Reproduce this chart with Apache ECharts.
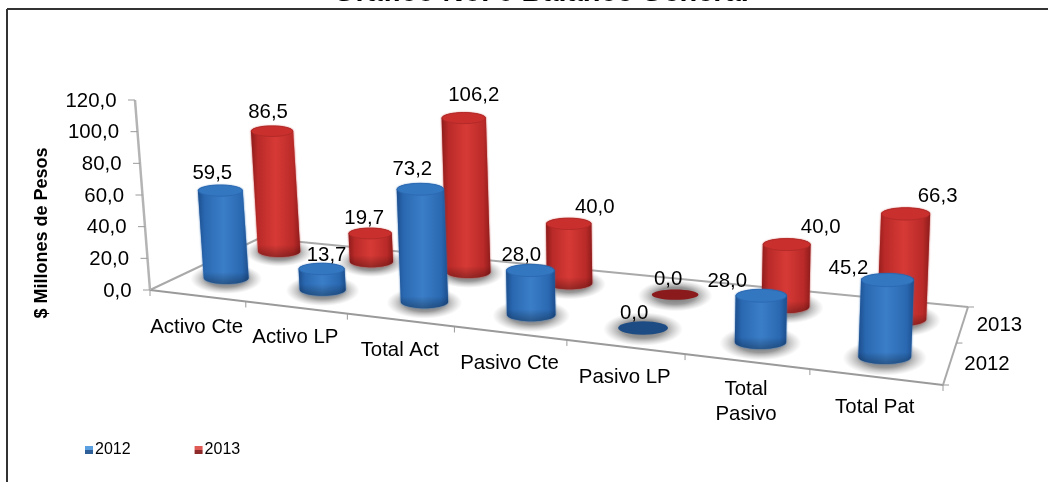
<!DOCTYPE html>
<html><head><meta charset="utf-8">
<style>html,body{margin:0;padding:0;background:#fff;overflow:hidden}#c{width:1048px;height:482px}</style>
<script src="https://cdn.jsdelivr.net/npm/echarts@6/dist/echarts.min.js"></script>
</head><body><div id="c"></div>
<script>
const categories = ['Activo Cte','Activo LP','Total Act','Pasivo Cte','Pasivo LP','Total\nPasivo','Total Pat'];
const values2012 = [59.5,13.7,73.2,28.0,0.0,28.0,45.2];
const values2013 = [86.5,19.7,106.2,40.0,0.0,40.0,66.3];
const yTicks = [0,20,40,60,80,100,120];
const depthNames = ['2012','2013'];

/* presentation only */
const labelOffsets2012 = [[-8,-17],[5,-14],[-8,-20],[-9,-15],[-9,-15],[-34,-14],[-39,-12]];
const labelOffsets2013 = [[-4,-19],[-6,-15],[10,-23],[26,-16],[-7,-15],[34,-17],[32,-18]];
const FONT = '"Liberation Sans", Arial, sans-serif';
const chart = echarts.init(document.getElementById('c'), null, {renderer:'canvas'});
const G = {left:150, top:100, width:793, height:190};

// floor quad (front-left, front-right, back-right, back-left)
const Q = [[150,290],[943,385],[968,307],[260,238]];
const H = (function(){
  const [p0,p1,p2,p3]=Q;
  const dx1=p1[0]-p2[0],dx2=p3[0]-p2[0],sx=p0[0]-p1[0]+p2[0]-p3[0];
  const dy1=p1[1]-p2[1],dy2=p3[1]-p2[1],sy=p0[1]-p1[1]+p2[1]-p3[1];
  const den=dx1*dy2-dx2*dy1;
  const g=(sx*dy2-dx2*sy)/den,h=(dx1*sy-sx*dy1)/den;
  return {a:p1[0]-p0[0]+g*p1[0],b:p3[0]-p0[0]+h*p3[0],c:p0[0],d:p1[1]-p0[1]+g*p1[1],e:p3[1]-p0[1]+h*p3[1],f:p0[1],g,h};
})();
function floorPt(u0,v){const u=u0+0.016*Math.sin(Math.PI*u0);const w=H.g*u+H.h*v+1;return [(H.a*u+H.b*v+H.c)/w,(H.d*u+H.e*v+H.f)/w];}
const fmt = v => v.toFixed(1).replace('.',',');
const rowV = [0.25,0.75];

function project(api,row){
  const base = api.coord([api.value(0),0]);
  const top = api.coord([api.value(0),api.value(1)]);
  const u = (base[0]-G.left)/G.width;
  const b = floorPt(u,rowV[row]);
  b[1] += -3.5+5*u;
  const s = 1.02*(1.36+0.0029*(b[1]-251))/1.583;
  const hp = (base[1]-top[1])*s;
  const t = [b[0]+(b[0]-660)*hp*0.000155, b[1]-hp];
  const w = 42+(b[1]-257+8)*0.1;
  return {b,t,hp,rx:w/2};
}
const PAL = [
 {edge:'#1d4f8e',mid:'#3b7ec8',side:'#2a69b2',top:'#3377c0',rim:'#2c6ab3',flat:'#1d4c85'},
 {edge:'#8e1c1c',mid:'#d73a36',side:'#b92a28',top:'#c92f2d',rim:'#b32a28',flat:'#8a1a1c'}
];
function ellipsePts(cx,cy,rx,ry,a0,a1,n){
  const pts=[];for(let i=0;i<=n;i++){const a=a0+(a1-a0)*i/n;pts.push([cx+rx*Math.cos(a),cy+ry*Math.sin(a)]);}return pts;
}
function cylinder(row){
  return function(params,api){
    const p=project(api,row), c=PAL[row], ryB=p.rx*0.27, ryT=p.rx*0.25;
    if(p.hp<0.5){
      return {type:'ellipse',shape:{cx:p.b[0],cy:p.b[1],rx:p.rx,ry:p.rx*(row?0.22:0.27)},style:{fill:c.flat}};
    }
    const pts=ellipsePts(p.b[0],p.b[1],p.rx,ryB,Math.PI,0,24).concat(ellipsePts(p.t[0],p.t[1],p.rx,ryT,0,-Math.PI,24));
    return {type:'group',children:[
      {type:'polygon',shape:{points:pts},style:{fill:new echarts.graphic.LinearGradient(0,0,1,0,[
        {offset:0,color:c.edge},{offset:0.14,color:c.side},{offset:0.5,color:c.mid},{offset:0.86,color:c.side},{offset:1,color:c.edge}]),
        shadowBlur:2,shadowColor:c.side}},
      {type:'polygon',shape:{points:pts},style:{fill:new echarts.graphic.LinearGradient(0,0,0,1,[
        {offset:0,color:'rgba(0,0,0,0)'},{offset:Math.max(0,1-12/(p.hp+ryB+ryT)),color:'rgba(0,0,0,0)'},{offset:1,color:'rgba(0,0,0,0.3)'}])}},
      {type:'ellipse',shape:{cx:p.t[0],cy:p.t[1],rx:p.rx-0.5,ry:ryT},style:{fill:c.top,stroke:c.rim,lineWidth:1}}
    ]};
  };
}
function shadow(row){
  return function(params,api){
    const p=project(api,row), R=p.rx*1.6, ky=0.42;
    return {type:'circle',x:p.b[0],y:p.b[1]+1,scaleX:1,scaleY:ky,shape:{cx:0,cy:0,r:R},
      style:{fill:new echarts.graphic.RadialGradient(0.5,0.5,0.5,[
        {offset:0,color:'rgba(70,70,70,0.8)'},{offset:0.55,color:'rgba(90,90,90,0.62)'},{offset:1,color:'rgba(140,140,140,0)'}])}};
  };
}
function dataLabel(row,off){
  return function(params,api){
    const p=project(api,row), o=off[params.dataIndex];
    return {type:'text',x:p.t[0]+o[0],y:p.t[1]+o[1],style:{text:fmt(api.value(1)),x:0,y:0,align:'center',verticalAlign:'middle',fill:'#000',font:'20.4px '+FONT}};
  };
}
function line(a,b,color,w){return {type:'line',shape:{x1:a[0],y1:a[1],x2:b[0],y2:b[1]},style:{stroke:color,lineWidth:w}};}

function renderFloor(){
  const [a,b,c,d]=Q, kids=[
    {type:'polygon',shape:{points:Q},style:{fill:'#fff'}},
    line(d,c,'#a9a9a9',2), line(a,d,'#a9a9a9',2), line(a,b,'#9a9a9a',2), line(b,c,'#a9a9a9',2)
  ];
  for(let i=0;i<=categories.length;i++){
    const e=floorPt(i/categories.length,0); kids.push(line(e,[e[0],e[1]+6],'#9a9a9a',1));
  }
  [0,0.5,1].forEach(v=>{const e=floorPt(1,v);kids.push(line(e,[e[0]+6,e[1]],'#9a9a9a',1));});
  depthNames.forEach((n,i)=>{const e=floorPt(1,rowV[i]);
    kids.push({type:'text',x:e[0]+37,y:e[1]+1,style:{text:n,align:'center',verticalAlign:'middle',fill:'#000',font:'20.4px '+FONT}});});
  return {type:'group',children:kids};
}
function renderYTick(params,api){
  const y=api.coord([0,api.value(1)])[1], h=G.top+G.height-y, x=G.left-h*0.079;
  const kids=[line([x-7,y],[x,y],'#9a9a9a',1),
    {type:'text',x:x-18.5,y:y+1,style:{text:fmt(api.value(1)),align:'right',verticalAlign:'middle',fill:'#000',font:'20.4px '+FONT}}];
  if(params.dataIndex===0){
    const top=api.coord([0,yTicks[yTicks.length-1]])[1];
    kids.unshift(line([x,y],[G.left-(G.top+G.height-top)*0.079,top],'#b4b4b4',2.5));
  }
  return {type:'group',children:kids};
}
function renderCat(params,api){
  const base=api.coord([api.value(0),0]), u=(base[0]-G.left)/G.width, e=floorPt(u,0), t=categories[params.dataIndex];
  const two=t.indexOf('\n')>=0, dy=params.dataIndex===0?32:30;
  return {type:'text',x:e[0]-0.5,y:e[1]+(two?40:dy),style:{text:t,align:'center',verticalAlign:'middle',lineHeight:25,fill:'#000',font:'20.4px '+FONT}};
}
const toXY = arr => arr.map((v,i)=>[i,v]);
const catData = categories.map((c,i)=>[i,0]);
const legendGrad = (a,b)=>new echarts.graphic.LinearGradient(0,0,0,1,[{offset:0,color:a},{offset:0.5,color:a},{offset:0.5,color:b},{offset:1,color:b}]);
const enc={x:0,y:1};
const helper=(o)=>Object.assign({type:'custom',encode:enc,silent:true,clip:false},o);

chart.setOption({
  animation:false,
  backgroundColor:'#fff',
  title:{text:'Gráfico No. 6 Balance General',left:328,top:-27,textStyle:{fontFamily:FONT,fontWeight:'bold',fontSize:29,color:'#000'}},
  graphic:[
    {type:'line',shape:{x1:7,y1:9,x2:1048,y2:9},style:{stroke:'#333',lineWidth:2},z:0},
    {type:'line',shape:{x1:7,y1:9,x2:7,y2:482},style:{stroke:'#333',lineWidth:2},z:0},
    {type:'text',rotation:Math.PI/2,x:42,y:233,style:{text:'$ Millones de Pesos',align:'center',verticalAlign:'middle',fill:'#000',font:'bold 18px '+FONT}}
  ],
  legend:{data:['2012','2013'],left:80,top:437,itemWidth:8,itemHeight:8,itemGap:64,icon:'rect',textStyle:{fontFamily:FONT,fontSize:16,color:'#000',padding:[0,0,0,-3]}},
  grid:G,
  xAxis:{type:'category',data:categories,show:false},
  yAxis:{type:'value',min:0,max:120,interval:20,show:false},
  series:[
    helper({name:'floor',z:1,data:[[0,0]],renderItem:renderFloor}),
    helper({name:'ticks',z:1,data:yTicks.map(v=>[0,v]),renderItem:renderYTick}),
    helper({name:'cats',z:1,data:catData,renderItem:renderCat}),
    helper({name:'s13',z:2,data:toXY(values2013),renderItem:shadow(1)}),
    helper({name:'s12',z:2,data:toXY(values2012),renderItem:shadow(0)}),
    helper({name:'2013',z:3,data:toXY(values2013),renderItem:cylinder(1),itemStyle:{color:legendGrad('#e05a55','#8e2a2a')}}),
    helper({name:'2012',z:4,data:toXY(values2012),renderItem:cylinder(0),itemStyle:{color:legendGrad('#5aa0e0','#2f5f98')}}),
    helper({name:'l13',z:5,data:toXY(values2013),renderItem:dataLabel(1,labelOffsets2013)}),
    helper({name:'l12',z:5,data:toXY(values2012),renderItem:dataLabel(0,labelOffsets2012)})
  ]
});
</script></body></html>
